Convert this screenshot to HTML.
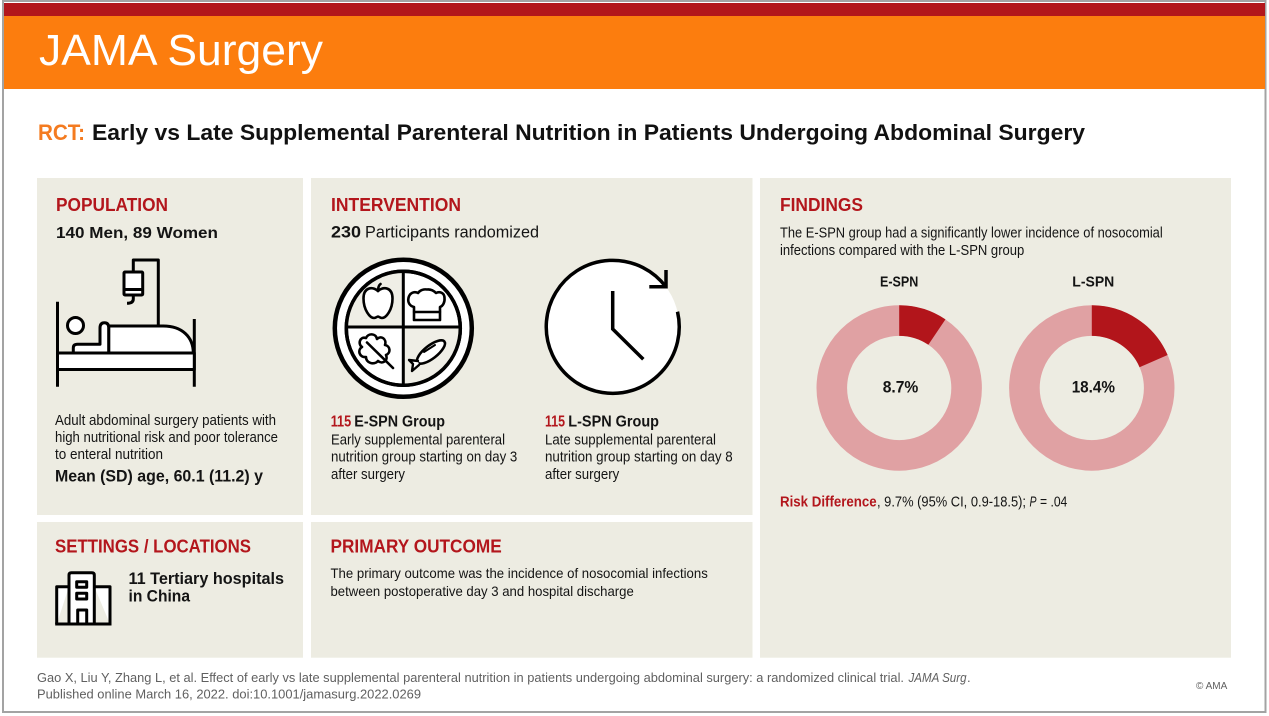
<!DOCTYPE html>
<html>
<head>
<meta charset="utf-8">
<style>
html,body{margin:0;padding:0;background:#fff;}
svg{display:block;}
text{font-family:"Liberation Sans",Arial,sans-serif;}
.b{font-weight:bold;}
.red{fill:#b3161c;}
.blk{fill:#141414;}
</style>
</head>
<body>
<svg width="1269" height="716" viewBox="0 0 1269 716" xmlns="http://www.w3.org/2000/svg">
  <rect x="0" y="0" width="1269" height="716" fill="#ffffff"/>
  <!-- frame -->
  <rect x="3" y="1" width="1262.5" height="711" fill="none" stroke="#a3a3a3" stroke-width="2"/>
  <!-- header bands -->
  <rect x="4" y="3" width="1261" height="13" fill="#b2161b"/>
  <rect x="4" y="16" width="1261" height="73" fill="#fc7d0e"/>
  <text x="39" y="65" font-size="44" fill="#ffffff" textLength="284" lengthAdjust="spacingAndGlyphs">JAMA Surgery</text>

  <!-- Title -->
  <text x="38" y="140" font-size="22" class="b" fill="#f47b20" textLength="47" lengthAdjust="spacingAndGlyphs">RCT:</text>
  <text x="92" y="140" font-size="22" class="b" fill="#111" textLength="993" lengthAdjust="spacingAndGlyphs">Early vs Late Supplemental Parenteral Nutrition in Patients Undergoing Abdominal Surgery</text>

  <!-- Panels -->
  <rect x="37" y="178" width="266" height="337" fill="#edece2"/>
  <rect x="311" y="178" width="441.5" height="337" fill="#edece2"/>
  <rect x="760" y="178" width="471" height="479.7" fill="#edece2"/>
  <rect x="37" y="522" width="266" height="135.7" fill="#edece2"/>
  <rect x="311" y="522" width="441.5" height="135.7" fill="#edece2"/>

  <!-- POPULATION -->
  <text x="56" y="211" font-size="18" class="b red" textLength="112" lengthAdjust="spacingAndGlyphs">POPULATION</text>
  <text x="56" y="238" font-size="16" class="b blk" textLength="162" lengthAdjust="spacingAndGlyphs">140 Men, 89 Women</text>

  <!-- bed icon -->
  <g stroke="#000" stroke-width="3" fill="#fff" stroke-linejoin="round" stroke-linecap="butt">
    <line x1="57.5" y1="301.7" x2="57.5" y2="386.7"/>
    <line x1="194.3" y1="319" x2="194.3" y2="386.7"/>
    <path d="M158.3,326 V260 H133.3 V272" fill="none"/>
    <rect x="124" y="272" width="18.7" height="23" rx="1"/>
    <line x1="124" y1="289.5" x2="142.7" y2="289.5"/>
    <path d="M133.3,295 V299 Q133.3,303.3 127,303.3" fill="none"/>
    <path d="M108.7,353 V326 H163.3 C182,326 193.3,337 193.3,353 Z"/>
    <path d="M73.3,353 V348 Q73.3,344.3 77.5,344.3 H100 V328 Q100,322.7 104.4,322.7 Q108.7,322.7 108.7,327.5 V353 Z"/>
    <circle cx="75.5" cy="325.5" r="8"/>
    <rect x="57.5" y="353" width="136.8" height="16.5"/>
  </g>

  <text x="55" y="425" font-size="14.5" class="blk" textLength="221" lengthAdjust="spacingAndGlyphs">Adult abdominal surgery patients with</text>
  <text x="55" y="442" font-size="14.5" class="blk" textLength="223" lengthAdjust="spacingAndGlyphs">high nutritional risk and poor tolerance</text>
  <text x="55" y="459" font-size="14.5" class="blk" textLength="108" lengthAdjust="spacingAndGlyphs">to enteral nutrition</text>
  <text x="55" y="481.5" font-size="16.5" class="b blk" textLength="208" lengthAdjust="spacingAndGlyphs">Mean (SD) age, 60.1 (11.2) y</text>

  <!-- INTERVENTION -->
  <text x="331" y="211" font-size="18" class="b red" textLength="130" lengthAdjust="spacingAndGlyphs">INTERVENTION</text>
  <text x="331" y="237.7" font-size="17" class="b blk" textLength="30" lengthAdjust="spacingAndGlyphs">230</text>
  <text x="365" y="237.7" font-size="17" class="blk" textLength="174" lengthAdjust="spacingAndGlyphs">Participants randomized</text>

  <!-- plate icon -->
  <g stroke="#000" fill="#fff" stroke-linejoin="round" stroke-linecap="round">
    <circle cx="403.3" cy="328.3" r="68.5" stroke-width="4.5"/>
    <circle cx="403.3" cy="328.3" r="57" stroke-width="3.5"/>
    <path d="M403.3,328.3 V271.3 A57,57 0 0 0 346.3,328.3 Z" fill="#efeee6" stroke="none"/>
    <path d="M403.3,328.3 V385.3 A57,57 0 0 0 460.3,328.3 Z" fill="#efeee6" stroke="none"/>
    <circle cx="403.3" cy="328.3" r="57" stroke-width="3.5" fill="none"/>
    <line x1="403.3" y1="271.3" x2="403.3" y2="385.3" stroke-width="3" stroke-linecap="butt"/>
    <line x1="346.3" y1="327" x2="460.3" y2="327" stroke-width="3" stroke-linecap="butt"/>
    <!-- apple -->
    <path d="M378,291 C372,286 363.5,287.5 363.5,298.5 C363.5,310 370,318 374,318 C376,318 377,316.5 378,316.5 C379,316.5 380,318 382,318 C386,318 392.5,310 392.5,298.5 C392.5,287.5 384,286 378,291 Z" stroke-width="2.6"/>
    <path d="M378,291 C378,287.5 378.5,285.5 380.5,284" stroke-width="2.6" fill="none"/>
    <!-- chef hat / bread -->
    <path d="M414,320 V307 C409.5,306 407.5,302 408.5,298 C409.5,293 414,291 418,293 C420,290 424,289 427,289.5 C431,289 434,291 436,293 C440,291 444.5,293 444.5,298 C445,302 443,306 440,307 V320 Z" stroke-width="2.6"/>
    <line x1="414" y1="312" x2="440" y2="312" stroke-width="2.4"/>
    <!-- leaf -->
    <path d="M366,338 C360,336 357.5,344 362,347 C357,350 359.5,358 366,357 C366,363 374,365.5 378,361 C382,364.5 388.5,361 386,355 C391,353 390.5,346 385,345 C387,339 381,335 377,339 C376,333 368,333 366,338 Z" stroke-width="2.6"/>
    <line x1="367" y1="342.5" x2="393" y2="368" stroke-width="2.6"/>
    <!-- fish -->
    <ellipse cx="431" cy="352" rx="17" ry="6.5" transform="rotate(-38 431 352)" stroke-width="2.6"/>
    <path d="M418,361 L409,360 L413,364 L412,371 L419,365" stroke-width="2.4"/>
    <line x1="424" y1="352" x2="435" y2="345" stroke-width="2"/>
  </g>

  <!-- clock icon -->
  <circle cx="612.7" cy="326.7" r="66.5" fill="#fff"/>
  <g stroke="#000" stroke-width="3.5" fill="none" stroke-linecap="butt" stroke-linejoin="miter">
    <path d="M666,287 A66.5,66.5 0 1 0 677.5,311.7"/>
    <path d="M649.3,286.7 H666 V270"/>
    <path d="M612.7,291 V329 L643.3,359.3"/>
  </g>

  <text x="330.7" y="426.7" font-size="16" class="b red" textLength="20.5" lengthAdjust="spacingAndGlyphs">115</text>
  <text x="354.3" y="426.7" font-size="16" class="b blk" textLength="90.7" lengthAdjust="spacingAndGlyphs">E-SPN Group</text>
  <text x="331" y="444.3" font-size="14.5" class="blk" textLength="174" lengthAdjust="spacingAndGlyphs">Early supplemental parenteral</text>
  <text x="331" y="461.7" font-size="14.5" class="blk" textLength="186.3" lengthAdjust="spacingAndGlyphs">nutrition group starting on day 3</text>
  <text x="331" y="479" font-size="14.5" class="blk" textLength="74" lengthAdjust="spacingAndGlyphs">after surgery</text>

  <text x="545" y="426.7" font-size="16" class="b red" textLength="20" lengthAdjust="spacingAndGlyphs">115</text>
  <text x="568.3" y="426.7" font-size="16" class="b blk" textLength="90.7" lengthAdjust="spacingAndGlyphs">L-SPN Group</text>
  <text x="545" y="444.3" font-size="14.5" class="blk" textLength="171" lengthAdjust="spacingAndGlyphs">Late supplemental parenteral</text>
  <text x="545" y="461.7" font-size="14.5" class="blk" textLength="187.7" lengthAdjust="spacingAndGlyphs">nutrition group starting on day 8</text>
  <text x="545" y="479" font-size="14.5" class="blk" textLength="74.3" lengthAdjust="spacingAndGlyphs">after surgery</text>

  <!-- FINDINGS -->
  <text x="780" y="211" font-size="18" class="b red" textLength="83" lengthAdjust="spacingAndGlyphs">FINDINGS</text>
  <text x="780" y="237.7" font-size="14.5" class="blk" textLength="382.7" lengthAdjust="spacingAndGlyphs">The E-SPN group had a significantly lower incidence of nosocomial</text>
  <text x="780" y="255" font-size="14.5" class="blk" textLength="244.3" lengthAdjust="spacingAndGlyphs">infections compared with the L-SPN group</text>

  <text x="880" y="286.7" font-size="15" class="b blk" textLength="38.3" lengthAdjust="spacingAndGlyphs">E-SPN</text>
  <text x="1072.3" y="286.7" font-size="15" class="b blk" textLength="42" lengthAdjust="spacingAndGlyphs">L-SPN</text>

  <!-- donuts -->
  <circle cx="899.2" cy="388" r="67.4" fill="none" stroke="#e0a1a3" stroke-width="30.6"/>
  <path d="M899.2,320.6 A67.4,67.4 0 0 1 936.9,332.1" fill="none" stroke="#b2151b" stroke-width="30.6"/>
  <circle cx="1091.8" cy="388" r="67.4" fill="none" stroke="#e0a1a3" stroke-width="30.6"/>
  <path d="M1091.8,320.6 A67.4,67.4 0 0 1 1153.6,361.1" fill="none" stroke="#b2151b" stroke-width="30.6"/>

  <text x="882.7" y="392.3" font-size="17" class="b blk" textLength="35.6" lengthAdjust="spacingAndGlyphs">8.7%</text>
  <text x="1071.7" y="392.3" font-size="17" class="b blk" textLength="43.3" lengthAdjust="spacingAndGlyphs">18.4%</text>

  <text x="780" y="506.7" font-size="14.5" class="b red" textLength="96.7" lengthAdjust="spacingAndGlyphs">Risk Difference</text>
  <text x="877" y="506.7" font-size="14.5" class="blk" textLength="149" lengthAdjust="spacingAndGlyphs">, 9.7% (95% CI, 0.9-18.5);</text>
  <text x="1029.5" y="506.7" font-size="14.5" font-style="italic" class="blk" textLength="7" lengthAdjust="spacingAndGlyphs">P</text>
  <text x="1040" y="506.7" font-size="14.5" class="blk" textLength="27.3" lengthAdjust="spacingAndGlyphs">= .04</text>

  <!-- SETTINGS -->
  <text x="55" y="552.7" font-size="18" class="b red" textLength="196" lengthAdjust="spacingAndGlyphs">SETTINGS / LOCATIONS</text>
  <g stroke="#000" stroke-width="3" fill="#fff" stroke-linejoin="round">
    <path d="M56.7,624 V586.7 H69"/>
    <path d="M110,624 V586.7 H94.3"/>
    <path d="M69,624 V575 Q69,572.7 71.3,572.7 H92 Q94.3,572.7 94.3,575 V624"/>
    <line x1="55.2" y1="624" x2="111.5" y2="624"/>
    <rect x="76.7" y="581.7" width="10" height="5.6"/>
    <rect x="76.7" y="593.3" width="10" height="5.7"/>
    <path d="M77.7,624 V610 H86.7 V624" fill="none"/>
  </g>
  <text x="128.5" y="584" font-size="16.5" class="b blk" textLength="155.5" lengthAdjust="spacingAndGlyphs">11 Tertiary hospitals</text>
  <text x="128.5" y="601.5" font-size="16.5" class="b blk" textLength="61.5" lengthAdjust="spacingAndGlyphs">in China</text>

  <!-- PRIMARY OUTCOME -->
  <text x="330.5" y="552.7" font-size="18" class="b red" textLength="171.2" lengthAdjust="spacingAndGlyphs">PRIMARY OUTCOME</text>
  <text x="330.5" y="578" font-size="14" class="blk" textLength="377.3" lengthAdjust="spacingAndGlyphs">The primary outcome was the incidence of nosocomial infections</text>
  <text x="330.5" y="596" font-size="14" class="blk" textLength="303.3" lengthAdjust="spacingAndGlyphs">between postoperative day 3 and hospital discharge</text>

  <!-- footer -->
  <text x="37" y="682" font-size="13" fill="#606060" textLength="867" lengthAdjust="spacingAndGlyphs">Gao X, Liu Y, Zhang L, et al. Effect of early vs late supplemental parenteral nutrition in patients undergoing abdominal surgery: a randomized clinical trial.</text>
  <text x="908.5" y="682" font-size="13" font-style="italic" fill="#606060" textLength="58" lengthAdjust="spacingAndGlyphs">JAMA Surg</text>
  <text x="967" y="682" font-size="13" fill="#606060">.</text>
  <text x="37" y="698.5" font-size="13" fill="#606060" textLength="384" lengthAdjust="spacingAndGlyphs">Published online March 16, 2022. doi:10.1001/jamasurg.2022.0269</text>
  <text x="1196" y="689" font-size="10" fill="#606060" textLength="31.3" lengthAdjust="spacingAndGlyphs">© AMA</text>
</svg>
</body>
</html>
